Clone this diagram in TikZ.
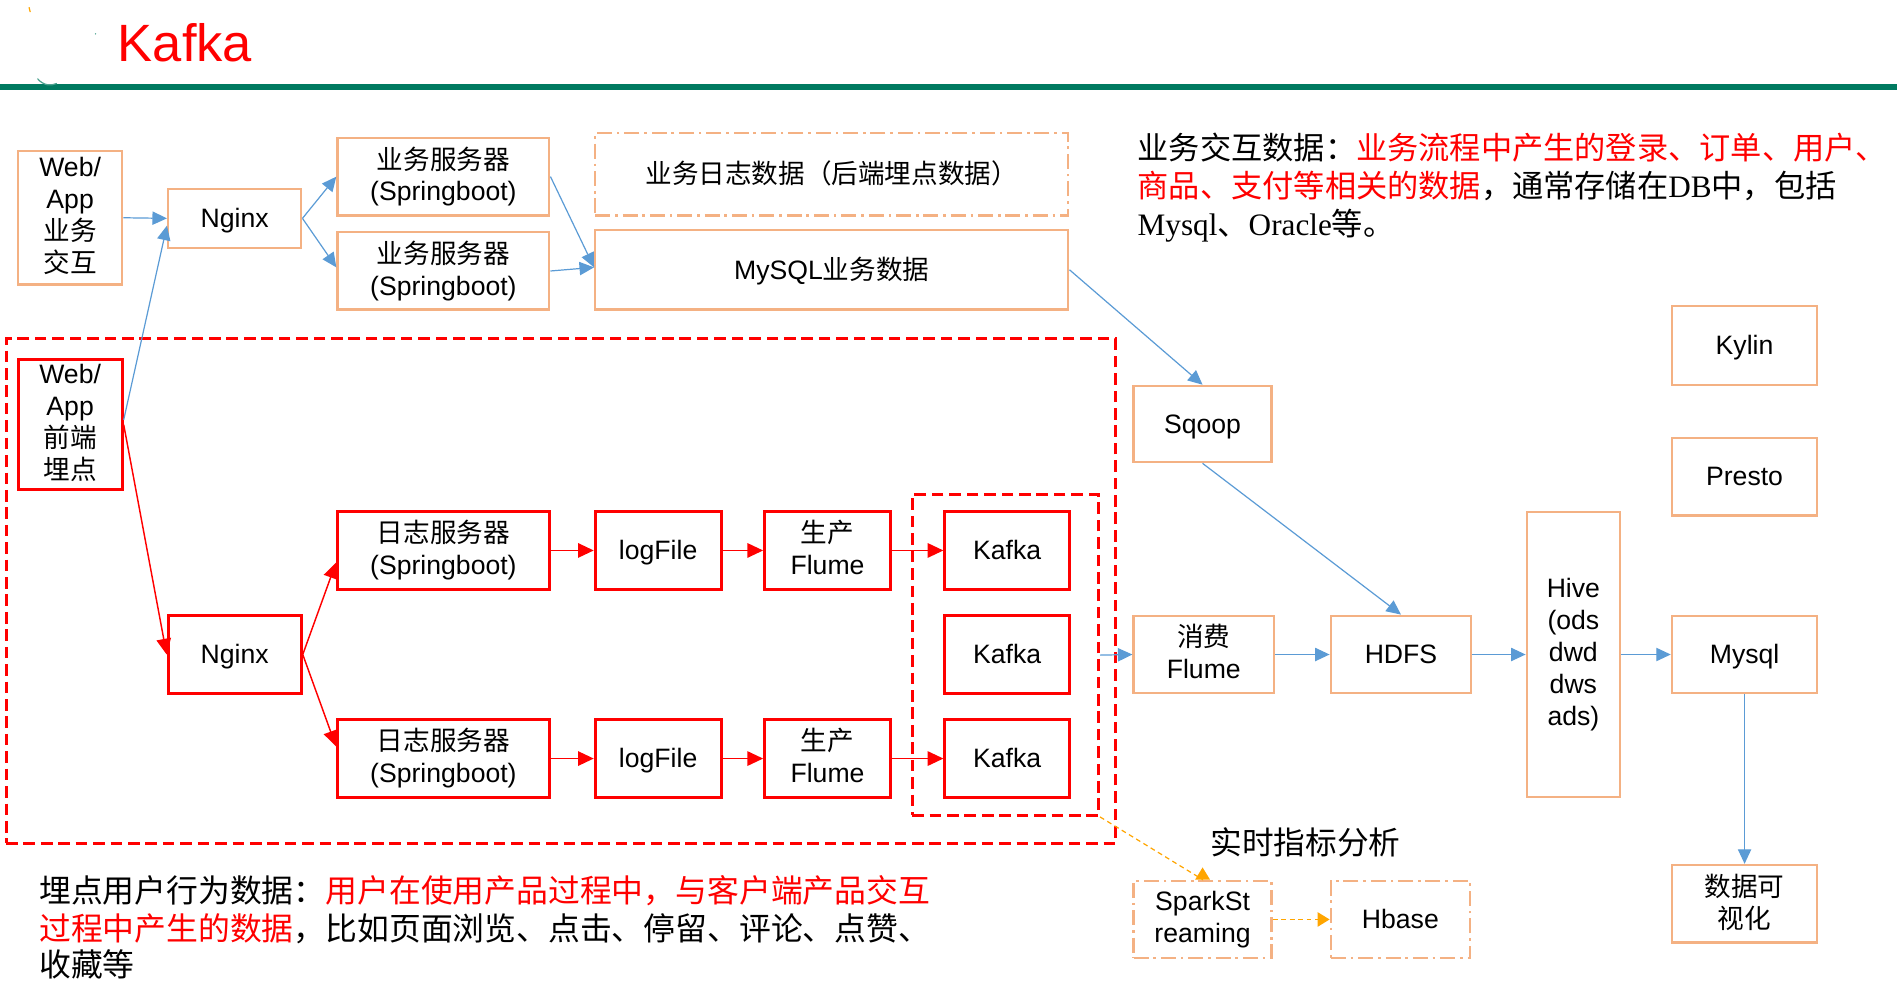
\documentclass[tikz,border=0pt]{standalone}
\usepackage{fontspec}
\setmainfont{Liberation Sans}
\newfontfamily\cjk{Noto Sans CJK SC}
\newfontfamily\serifl{Liberation Serif}
\usetikzlibrary{arrows.meta,calc}
\definecolor{oboxc}{RGB}{244,177,131}
\definecolor{myblue}{RGB}{91,155,213}
\definecolor{myred}{RGB}{255,0,0}
\definecolor{tgreen}{RGB}{0,122,96}
\definecolor{myorange}{RGB}{255,165,0}
\begin{document}
\begin{tikzpicture}[x=0.5pt,y=-0.5pt,
  box/.style={draw, line width=1pt, inner sep=0pt, align=center, text=black,
    font=\fontsize{11}{13.2}\selectfont,
    execute at begin node={\rule{0pt}{9.96pt}},
    execute at end node={\rule[-2.33pt]{0pt}{0pt}}},
  obx/.style={box, draw=oboxc},
  rbx/.style={box, draw=myred, line width=1.25pt},
  ddbx/.style={box, draw=oboxc, dash pattern=on 6.2pt off 2pt on 1.1pt off 2pt},
  grp/.style={draw=myred, line width=1.25pt, dash pattern=on 4.8pt off 2.4pt, inner sep=0pt},
  barrow/.style={draw=myblue, line width=0.5pt, -{Triangle[length=6pt,width=5.5pt]}},
  rarrow/.style={draw=myred, line width=0.6pt, -{Triangle[length=6.5pt,width=6pt]}},
  oarrow/.style={draw=myorange, line width=0.5pt, dash pattern=on 2pt off 1.5pt, -{Triangle[length=5pt,width=6pt]}},
  para/.style={anchor=base west, inner sep=0pt, text=black}
]
\useasboundingbox (0,0) rectangle (1568,822);

% header
\node[anchor=base west, inner sep=0pt, text=myred, font=\fontsize{21.7}{24}\selectfont] (title) at (97,51) {Kafka};
\draw[tgreen, line width=2.4pt] (0,72) -- (1568,72);
\draw[myorange, line width=0.5pt] (24,6) -- (25,10);
\fill[tgreen!70] (79,28) circle (0.6);
\draw[tgreen!70, line width=0.5pt] (31,65) .. controls (36,71) and (42,71) .. (47,69);

% groups
\node[grp, minimum width=458.5pt, minimum height=208.5pt] (big) at (463.5,488.5) {};
\node[grp, minimum width=77pt, minimum height=132.5pt] (kgroup) at (831,541.5) {};

% top row
\node[obx, minimum width=43pt, minimum height=55pt] (web1) at (58,180) {Web/\\App\\{\cjk 业务}\\{\cjk 交互}};
\node[obx, minimum width=55pt, minimum height=24.5pt] (ngx1) at (194,180.5) {Nginx};
\node[obx, minimum width=87.5pt, minimum height=32pt] (srv1) at (366.5,146) {{\cjk 业务服务器}\\(Springboot)};
\node[obx, minimum width=87.5pt, minimum height=32pt] (srv2) at (366.5,224) {{\cjk 业务服务器}\\(Springboot)};
\node[ddbx, minimum width=195.5pt, minimum height=34pt] (logdata) at (687.5,144) {{\cjk 业务日志数据（后端埋点数据）}};
\node[obx, minimum width=195.5pt, minimum height=33pt] (mysqlb) at (687.5,223) {MySQL{\cjk 业务数据}};

% right side
\node[obx, minimum width=57pt, minimum height=31.5pt] (sqoop) at (994,350.5) {Sqoop};
\node[obx, minimum width=60pt, minimum height=32.5pt] (kylin) at (1442,285.5) {Kylin};
\node[obx, minimum width=60pt, minimum height=32pt] (presto) at (1442,394) {Presto};
\node[obx, minimum width=38.5pt, minimum height=118pt] (hive) at (1300.5,541) {Hive\\(ods\\dwd\\dws\\ads)};
\node[obx, minimum width=60pt, minimum height=32pt] (mysql) at (1442,541) {Mysql};
\node[obx, minimum width=60pt, minimum height=32pt] (viz) at (1442,747) {{\cjk 数据可}\\{\cjk 视化}};
\node[obx, minimum width=58pt, minimum height=32pt] (cflume) at (995,541) {{\cjk 消费}\\Flume};
\node[obx, minimum width=58pt, minimum height=32pt] (hdfs) at (1158,541) {HDFS};
\node[ddbx, minimum width=57pt, minimum height=32pt] (spark) at (994,760) {SparkSt\\reaming};
\node[ddbx, minimum width=57.5pt, minimum height=32pt] (hbase) at (1157.5,760) {Hbase};

% red part
\node[rbx, minimum width=43pt, minimum height=54pt] (web2) at (58,351) {Web/\\App\\{\cjk 前端}\\{\cjk 埋点}};
\node[rbx, minimum width=55pt, minimum height=32pt] (ngx2) at (194,541) {Nginx};
\node[rbx, minimum width=87.5pt, minimum height=32pt] (lsrv1) at (366.5,455) {{\cjk 日志服务器}\\(Springboot)};
\node[rbx, minimum width=87.5pt, minimum height=32pt] (lsrv2) at (366.5,627) {{\cjk 日志服务器}\\(Springboot)};
\node[rbx, minimum width=52pt, minimum height=32pt] (lf1) at (544,455) {logFile};
\node[rbx, minimum width=52pt, minimum height=32pt] (lf2) at (544,627) {logFile};
\node[rbx, minimum width=52pt, minimum height=32pt] (pf1) at (684,455) {{\cjk 生产}\\Flume};
\node[rbx, minimum width=52pt, minimum height=32pt] (pf2) at (684,627) {{\cjk 生产}\\Flume};
\node[rbx, minimum width=51.5pt, minimum height=32pt] (k1) at (832.5,455) {Kafka};
\node[rbx, minimum width=51.5pt, minimum height=32pt] (k2) at (832.5,541) {Kafka};
\node[rbx, minimum width=51.5pt, minimum height=32pt] (k3) at (832.5,627) {Kafka};

% blue arrows
\draw[barrow] (web1.east) -- (ngx1.west);
\draw[barrow] ([yshift=2pt]web2.east) -- ([yshift=-3pt]ngx1.west);
\draw[barrow] (ngx1.east) -- (srv1.west);
\draw[barrow] (ngx1.east) -- ([yshift=1.5pt]srv2.west);
\draw[barrow] (srv1.east) -- ([yshift=1pt]mysqlb.west);
\draw[barrow] (srv2.east) -- ([yshift=1pt]mysqlb.west);
\draw[barrow] (mysqlb.east) -- (sqoop.north);
\draw[barrow] (sqoop.south) -- (hdfs.north);
\draw[barrow] (kgroup.east) -- (cflume.west);
\draw[barrow] (cflume.east) -- (hdfs.west);
\draw[barrow] (hdfs.east) -- (hive.west);
\draw[barrow] (hive.east) -- (mysql.west);
\draw[barrow] (mysql.south) -- (viz.north);

% red arrows
\draw[rarrow] (web2.east) -- (ngx2.west);
\draw[rarrow] (ngx2.east) -- ([yshift=-5pt]lsrv1.west);
\draw[rarrow] (ngx2.east) -- ([yshift=5pt]lsrv2.west);
\draw[rarrow] (lsrv1.east) -- (lf1.west);
\draw[rarrow] (lf1.east) -- (pf1.west);
\draw[rarrow] (pf1.east) -- (k1.west);
\draw[rarrow] (lsrv2.east) -- (lf2.west);
\draw[rarrow] (lf2.east) -- (pf2.west);
\draw[rarrow] (pf2.east) -- (k3.west);

% orange dashed arrows
\draw[oarrow] (kgroup.south east) -- (spark.north) -- ([yshift=5pt]spark.north);
\draw[oarrow] (spark.east) -- (hbase.west);

% texts
\node[para, font=\cjk\fontsize{12.9}{15.75}\selectfont] (p1) at (940,132) {业务交互数据：\textcolor{myred}{业务流程中产生的登录、订单、用户、}};
\node[para, font=\cjk\fontsize{12.9}{15.75}\selectfont] (p2) at (940,163.5) {\textcolor{myred}{商品、支付等相关的数据}，通常存储在{\serifl DB}中，包括};
\node[para, font=\cjk\fontsize{12.9}{15.75}\selectfont] (p3) at (940,195) {{\serifl Mysql}、{\serifl Oracle}等。};
\node[para, font=\cjk\fontsize{13.1}{15.75}\selectfont] (rt) at (1000,706.5) {实时指标分析};
\node[para, font=\cjk\fontsize{13.15}{15.25}\selectfont] (b1) at (32,746) {埋点用户行为数据：\textcolor{myred}{用户在使用产品过程中，与客户端产品交互}};
\node[para, font=\cjk\fontsize{13.15}{15.25}\selectfont] (b2) at (32,777) {\textcolor{myred}{过程中产生的数据}，比如页面浏览、点击、停留、评论、点赞、};
\node[para, font=\cjk\fontsize{13.15}{15.25}\selectfont] (b3) at (32,807) {收藏等};
\end{tikzpicture}
\end{document}
